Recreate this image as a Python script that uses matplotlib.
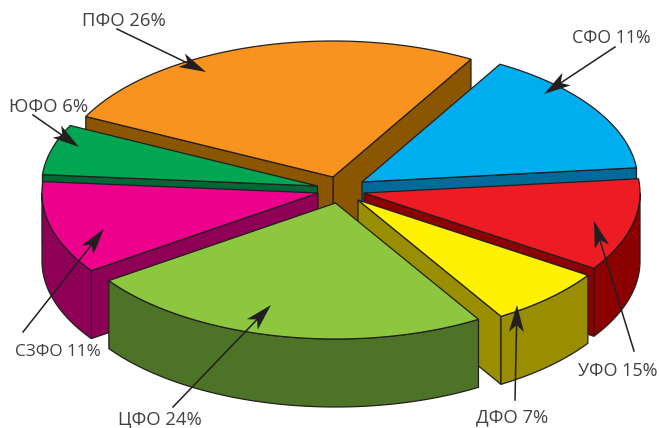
import numpy as np
import matplotlib
matplotlib.use("Agg")
import matplotlib.pyplot as plt
from matplotlib.patches import Polygon

plt.rcParams["font.family"] = ["Open Sans", "DejaVu Sans"]

# slices in drawing order round the pie, counter-clockwise from the top right
regions = ["ПФО", "ЮФО", "СЗФО", "ЦФО", "ДФО", "УФО", "СФО"]
shares_drawn = [26, 6, 11, 24, 7, 11, 15]  # size of the wedge as seen in the picture
top_colors = ["#f7931e", "#00a651", "#ec008c", "#8dc63f", "#fff200", "#ed1c24", "#00aeef"]
side_colors = ["#8b5600", "#006837", "#8e0055", "#4d7326", "#998e00", "#8b0000", "#006b99"]
apex_x = [333, 317.5, 318, 335.5, 358, 364, 362]
apex_y = [177, 186, 193, 203, 200, 193, 182]

labels = ["ПФО 26%", "ЮФО 6%", "СЗФО 11%", "ЦФО 24%", "ДФО 7%", "УФО 15%", "СФО 11%"]
label_x = [123.5, 49, 57.5, 160, 512.5, 617.5, 611]
label_y = [21, 107, 352, 419, 417, 371, 38]
label_size = [13.3, 13.3, 12.3, 13.3, 13.3, 13, 12.8]
arrow_start = [(117, 29), (33, 115), (23, 332), (173, 407), (515, 400), (634, 351), (615, 47)]
arrow_tip = [(206, 72), (79, 147), (104, 229), (271, 305), (517, 305), (594, 221), (544, 94)]

START_ANGLE = 60
RX, RY = 276, 136
DEPTH = 68
EDGE = "#231f20"


def arc(i, a0, a1):
    t = np.radians(np.linspace(a0, a1, 80))
    return np.column_stack([apex_x[i] + RX * np.cos(t), apex_y[i] - RY * np.sin(t)])


fig = plt.figure(figsize=(6.59, 4.28), dpi=100)
ax = fig.add_axes([0, 0, 1, 1])
ax.set_xlim(0, 659)
ax.set_ylim(428, 0)
ax.axis("off")

edges = START_ANGLE + 3.6 * np.concatenate([[0], np.cumsum(shares_drawn)])

# back to front so nearer slices hide the walls behind them
for i in [0, 6, 1, 5, 2, 4, 3]:
    a0, a1 = edges[i], edges[i + 1]
    apex = np.array([[apex_x[i], apex_y[i]]])
    rim = arc(i, a0, a1)
    down = np.array([0, DEPTH])
    style = dict(edgecolor=EDGE, linewidth=0.9, joinstyle="miter")

    # radial walls, only those turned towards the viewer
    if np.sin(np.radians(a0 - 90)) < 0:
        wall = np.vstack([apex, rim[:1], rim[:1] + down, apex + down])
        ax.add_patch(Polygon(wall, facecolor=side_colors[i], **style))
    if np.sin(np.radians(a1 + 90)) < 0:
        wall = np.vstack([apex, rim[-1:], rim[-1:] + down, apex + down])
        ax.add_patch(Polygon(wall, facecolor=side_colors[i], **style))

    # outer wall, same
    lo = max(a0, 180)
    hi = min(a1, 360)
    if hi > lo:
        front = arc(i, lo, hi)
        ax.add_patch(Polygon(np.vstack([front, (front + down)[::-1]]),
                             facecolor=side_colors[i], **style))

    ax.add_patch(Polygon(np.vstack([apex, rim]), facecolor=top_colors[i], **style))

for i in range(len(regions)):
    ax.text(label_x[i], label_y[i], labels[i], fontsize=label_size[i], color="#414042",
            ha="center", va="center")

    s = np.array(arrow_start[i], dtype=float)
    t = np.array(arrow_tip[i], dtype=float)
    d = (t - s) / np.hypot(*(t - s))
    n = np.array([-d[1], d[0]])
    ax.plot([s[0], (t - d * 10)[0]], [s[1], (t - d * 10)[1]], color=EDGE, lw=1.1)
    head = [t, t - d * 27 + n * 7.5, t - d * 20, t - d * 27 - n * 7.5]
    ax.add_patch(Polygon(head, facecolor=EDGE, edgecolor="none", zorder=5))

fig.savefig("out.png", dpi=100)
